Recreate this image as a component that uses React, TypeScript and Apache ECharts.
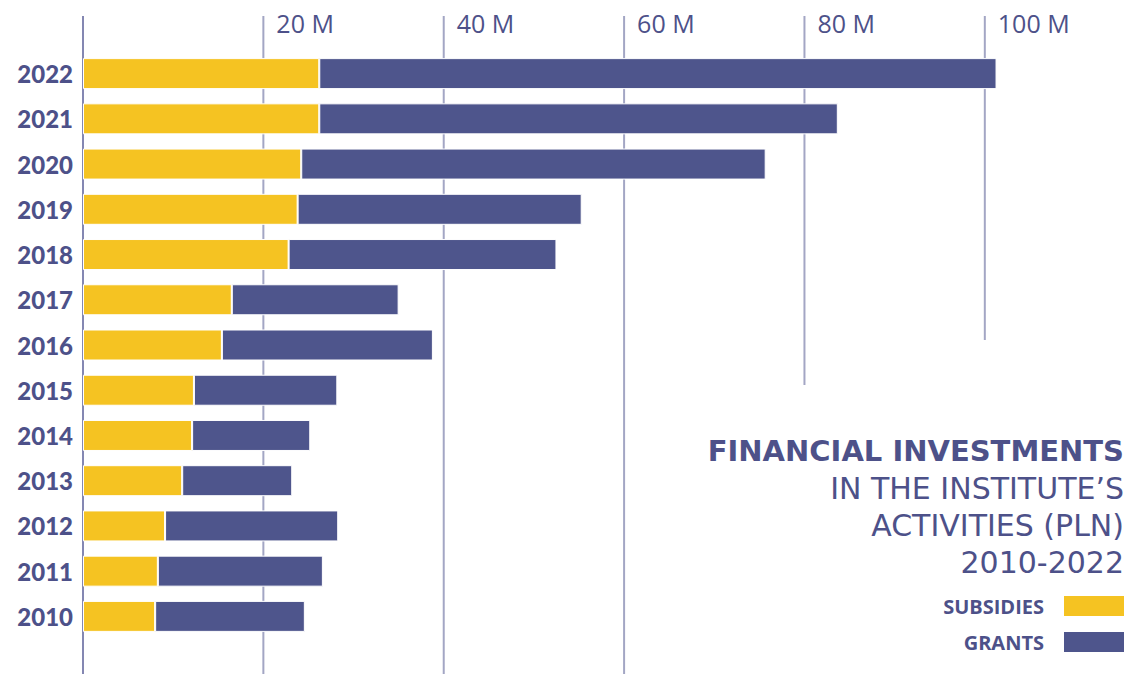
import React, { useEffect, useRef } from "react";
import * as echarts from "echarts";

const years = ["2010", "2011", "2012", "2013", "2014", "2015", "2016", "2017", "2018", "2019", "2020", "2021", "2022"];
const subsidies = [8.0, 8.3, 9.1, 11.0, 12.1, 12.3, 15.4, 16.5, 22.8, 23.8, 24.2, 26.2, 26.2];
const grants = [16.6, 18.3, 19.2, 12.2, 13.1, 15.9, 23.4, 18.5, 29.7, 31.5, 51.5, 57.5, 75.1];
const gridTicks = [0, 20, 40, 60, 80, 100];
const titleBold = "FINANCIAL INVESTMENTS";
const titleLines = ["IN THE INSTITUTE\u2019S", "ACTIVITIES (PLN)", "2010-2022"];

const NAVY = "#4d5189";
const YELLOW = "#f5c322";
const BLUE = "#4e558c";
const FONT = "Lato, 'Open Sans', sans-serif";
const FONT2 = "'Open Sans', Lato, sans-serif";
const FONT3 = "'DejaVu Sans', 'Open Sans', sans-serif";

export default function App() {
  const ref = useRef<HTMLDivElement>(null);
  useEffect(() => {
    document.body.style.margin = "0";
    const chart = echarts.init(ref.current!, null, { renderer: "svg" });
    const option: any = {
      animation: false,
      backgroundColor: "#ffffff",
      textStyle: { fontFamily: FONT },
      grid: { left: 83, right: 53, top: 51, bottom: 35, containLabel: false },
      legend: {
        orient: "vertical",
        right: -3,
        top: 589,
        align: "right",
        itemWidth: 62,
        itemHeight: 22,
        itemGap: 12,
        icon: "rect",
        textStyle: { fontFamily: FONT2, fontSize: 20, fontWeight: "bold", color: NAVY, padding: [0, 14, 0, 0] },
        data: ["SUBSIDIES", "GRANTS"],
      },
      xAxis: {
        type: "value",
        position: "top",
        min: 0,
        max: 110,
        interval: 20,
        axisLine: { show: false },
        axisTick: { show: false },
        splitLine: { show: false },
        axisLabel: {
          showMaxLabel: false,
          align: "left",
          margin: 16,
          padding: [0, 0, 0, 13],
          fontFamily: FONT2,
          fontSize: 25,
          color: NAVY,
          formatter: (v: number) => (v === 0 ? "" : `${v} M`),
        },
      },
      yAxis: {
        type: "category",
        data: years,
        axisLine: { show: false },
        axisTick: { show: false },
        axisLabel: { margin: 10, fontFamily: FONT, fontSize: 24, fontWeight: 900, color: NAVY },
      },
      series: [
        {
          name: "SUBSIDIES",
          type: "bar",
          stack: "total",
          barWidth: 31,
          data: subsidies,
          itemStyle: { color: YELLOW, borderColor: "#ffffff", borderWidth: 1 },
          z: 3,
        },
        {
          name: "GRANTS",
          type: "bar",
          stack: "total",
          barWidth: 31,
          data: grants,
          itemStyle: { color: BLUE, borderColor: "#ffffff", borderWidth: 1 },
          z: 3,
        },
      ],
    };
    chart.setOption(option);

    const bottoms: Record<number, number> = { 80: 385, 100: 340 };
    const lines = gridTicks.map((v) => {
      const x = chart.convertToPixel({ xAxisIndex: 0 }, v) as number;
      return {
        type: "line",
        z: 0,
        silent: true,
        shape: { x1: x, y1: 16, x2: x, y2: bottoms[v] ?? 674 },
        style: { stroke: v === 0 ? "#5b5f98" : "#a3a6c4", lineWidth: v === 0 ? 1.5 : 2 },
      };
    });
    const texts: any[] = [
      {
        type: "text",
        right: 4,
        top: 436,
        style: { text: titleBold, fontFamily: FONT3, fontSize: 29, fontWeight: "bold", fill: NAVY, textAlign: "right" },
      },
      ...titleLines.map((t, i) => ({
        type: "text",
        right: 4,
        top: 473 + i * 37,
        style: { text: t, fontFamily: FONT3, fontSize: 30, fontWeight: "normal", fill: NAVY, textAlign: "right" },
      })),
    ];
    chart.setOption({ graphic: [...lines, ...texts] });
    return () => chart.dispose();
  }, []);
  return <div ref={ref} style={{ position: "absolute", left: 0, top: 0, width: 1128, height: 674 }} />;
}
